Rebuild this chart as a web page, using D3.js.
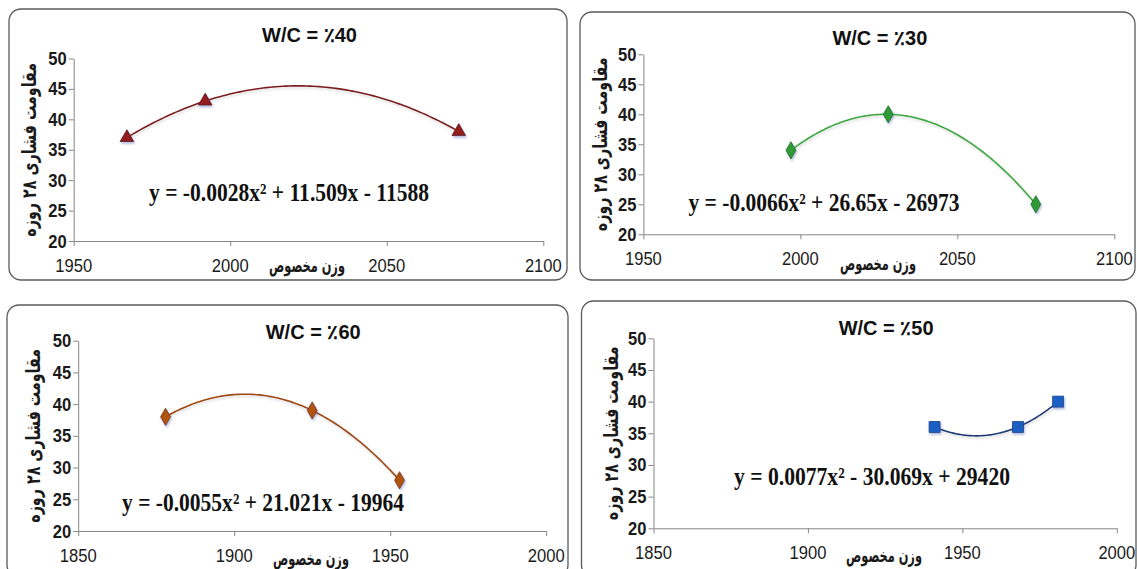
<!DOCTYPE html>
<html>
<head>
<meta charset="utf-8">
<script src="https://cdn.jsdelivr.net/npm/d3@7"></script>
<style>
  html, body { margin: 0; padding: 0; background: #fff; }
  svg { display: block; }
  .tick-x { font-family: "Liberation Sans", Arial, sans-serif; font-size: 18px; fill: #1a1a1a; }
  .tick-y { font-family: "Liberation Sans", Arial, sans-serif; font-size: 18px; font-weight: bold; fill: #1a1a1a; }
  .title { font-family: "Liberation Sans", Arial, sans-serif; font-size: 20px; font-weight: bold; fill: #111; }
  .axis-title { font-family: "DejaVu Sans", sans-serif; font-weight: bold; fill: #1a1a1a; }
  .equation { font-family: "Liberation Serif", "Times New Roman", serif; font-size: 25px; font-weight: bold; fill: #111; }
</style>
</head>
<body>
<script>
var width = 1137, height = 569;

// data
var wcLabels = ["W/C = ٪40", "W/C = ٪30", "W/C = ٪60", "W/C = ٪50"];

var density40 = [1967, 1992, 2073];
var strength40 = [37, 43, 38];
var density30 = [1997, 2028, 2075];
var strength30 = [34, 40, 25];
var density60 = [1878, 1925, 1953];
var strength60 = [38, 39, 28];
var density50 = [1941, 1968, 1981];
var strength50 = [36, 36, 40];

var equation40 = "y = -0.0028x² + 11.509x - 11588";
var equation30 = "y = -0.0066x² + 26.65x - 26973";
var equation60 = "y = -0.0055x² + 21.021x - 19964";
var equation50 = "y = 0.0077x² - 30.069x + 29420";

var xTicksUpper = [1950, 2000, 2050, 2100];
var xTicksLower = [1850, 1900, 1950, 2000];
var yTicks = [20, 25, 30, 35, 40, 45, 50];

var yTitle = "مقاومت فشاری ۲۸ روزه";
var xTitle = "وزن مخصوص";

// panel layout and styling
var panels = [
  {label: wcLabels[0], xs: density40, ys: strength40, eq: equation40, ticks: xTicksUpper,
   box: [9, 9, 558, 271], plot: [73.7, 543.3, 58.5, 241], titleY: 42,
   eqX: 289, eqY: 201, eqLen: 280, tickY: 272, xTitleX: 307, xTitleY: 272, yTitleX: 36,
   symbol: d3.symbolTriangle, size: 80, fill: "#921c1f", stroke: "#5e0f12", line: "#7b1a1c"},
  {label: wcLabels[1], xs: density30, ys: strength30, eq: equation30, ticks: xTicksUpper,
   box: [580, 12, 555, 268], plot: [643.4, 1114.3, 54.3, 234.3], titleY: 45,
   eqX: 824, eqY: 211, eqLen: 271, tickY: 265, xTitleX: 878, xTitleY: 270, yTitleX: 607,
   symbol: d3.symbolDiamond, size: 85, fill: "#2d9b34", stroke: "#1a6b20", line: "#3ca83f"},
  {label: wcLabels[2], xs: density60, ys: strength60, eq: equation60, ticks: xTicksLower,
   box: [7, 305, 561, 272], plot: [78.2, 546.2, 340.7, 531], titleY: 339,
   eqX: 263, eqY: 511, eqLen: 282, tickY: 562, xTitleX: 311, xTitleY: 565, yTitleX: 40,
   symbol: d3.symbolDiamond, size: 85, fill: "#b4520e", stroke: "#6e3208", line: "#a0460f"},
  {label: wcLabels[3], xs: density50, ys: strength50, eq: equation50, ticks: xTicksLower,
   box: [581.5, 301, 554.5, 276], plot: [653.5, 1116.8, 338.3, 528.3], titleY: 335,
   eqX: 872, eqY: 485, eqLen: 276, tickY: 559, xTitleX: 884, xTitleY: 562, yTitleX: 618,
   symbol: d3.symbolSquare, size: 120, fill: "#1f5fc2", stroke: "#153f8a", line: "#1b3b73"}
];

// least squares polynomial of order 2 (the chart's trendline)
function fitQuadratic(xs, ys) {
  var m = d3.mean(xs);
  var S = [0, 0, 0, 0, 0], T = [0, 0, 0];
  xs.forEach(function(x, i) {
    var u = x - m;
    for (var k = 0; k < 5; k++) S[k] += Math.pow(u, k);
    for (var k = 0; k < 3; k++) T[k] += ys[i] * Math.pow(u, k);
  });
  var A = [[S[0], S[1], S[2], T[0]], [S[1], S[2], S[3], T[1]], [S[2], S[3], S[4], T[2]]];
  for (var c = 0; c < 3; c++) {
    for (var r = c + 1; r < 3; r++) {
      var f = A[r][c] / A[c][c];
      for (var j = c; j < 4; j++) A[r][j] -= f * A[c][j];
    }
  }
  var coef = [0, 0, 0];
  for (var r = 2; r >= 0; r--) {
    var s = A[r][3];
    for (var j = r + 1; j < 3; j++) s -= A[r][j] * coef[j];
    coef[r] = s / A[r][r];
  }
  return function(x) { var u = x - m; return coef[0] + coef[1] * u + coef[2] * u * u; };
}

// squeeze a text sideways to a target width with a transform, so its box shrinks too
function fitWidth(sel, cx, cy, target, rotate) {
  var w = sel.node().getComputedTextLength();
  var k = target / w;
  sel.attr("transform", "translate(" + cx + "," + cy + ")" + (rotate ? " rotate(-90)" : "") + " scale(" + k + ",1)");
}

var svg = d3.select("body").append("svg")
  .attr("width", width)
  .attr("height", height);

var defs = svg.append("defs");
var shadow = defs.append("filter").attr("id", "shadow")
  .attr("x", "-50%").attr("y", "-50%").attr("width", "200%").attr("height", "200%");
shadow.append("feDropShadow")
  .attr("dx", 1).attr("dy", 2).attr("stdDeviation", 1.2)
  .attr("flood-color", "#5a6fb5").attr("flood-opacity", 0.45);
var lineShadow = defs.append("filter").attr("id", "lineShadow")
  .attr("x", "-10%").attr("y", "-50%").attr("width", "120%").attr("height", "200%");
lineShadow.append("feDropShadow")
  .attr("dx", 1).attr("dy", 2).attr("stdDeviation", 1)
  .attr("flood-color", "#999").attr("flood-opacity", 0.35);

panels.forEach(function(p) {
  var g = svg.append("g");

  g.append("rect")
    .attr("x", p.box[0]).attr("y", p.box[1])
    .attr("width", p.box[2]).attr("height", p.box[3])
    .attr("rx", 12).attr("ry", 12)
    .attr("fill", "#fff")
    .attr("stroke", "#5a5a5a")
    .attr("stroke-width", 1.3);

  var x = d3.scaleLinear().domain([p.ticks[0], p.ticks[p.ticks.length - 1]]).range([p.plot[0], p.plot[1]]);
  var y = d3.scaleLinear().domain([20, 50]).range([p.plot[3], p.plot[2]]);

  var xAxis = g.append("g")
    .attr("transform", "translate(0," + p.plot[3] + ")")
    .call(d3.axisBottom(x).tickValues(p.ticks).tickFormat(d3.format("d")).tickSize(5).tickSizeOuter(0));
  xAxis.select(".domain").attr("stroke", "#868686");
  xAxis.selectAll(".tick line").attr("stroke", "#868686");
  xAxis.selectAll(".tick text").remove();

  var yAxis = g.append("g")
    .attr("transform", "translate(" + p.plot[0] + ",0)")
    .call(d3.axisLeft(y).tickValues(yTicks).tickSize(5).tickSizeOuter(0));
  yAxis.select(".domain").attr("stroke", "#868686");
  yAxis.selectAll(".tick line").attr("stroke", "#868686");
  yAxis.selectAll(".tick text").remove();

  g.selectAll("text.tick-x")
    .data(p.ticks).enter()
    .append("text")
    .attr("class", "tick-x squish")
    .attr("x", function(d) { return x(d); })
    .attr("y", p.tickY)
    .attr("text-anchor", "middle")
    .text(function(d) { return d; });

  g.selectAll("text.tick-y")
    .data(yTicks).enter()
    .append("text")
    .attr("class", "tick-y squish")
    .attr("x", p.plot[0] - 7)
    .attr("y", function(d) { return y(d) + 6.5; })
    .attr("text-anchor", "end")
    .text(function(d) { return d; });

  g.append("text")
    .attr("class", "title")
    .attr("x", x((p.ticks[0] + p.ticks[3]) / 2) + 1)
    .attr("y", p.titleY)
    .attr("text-anchor", "middle")
    .text(p.label);

  var xt = g.append("text")
    .attr("class", "axis-title")
    .attr("font-size", "19px")
    .attr("text-anchor", "middle")
    .attr("direction", "rtl")
    .text(xTitle);
  fitWidth(xt, p.xTitleX, p.xTitleY, 76, false);

  var yMid = (p.plot[2] + p.plot[3]) / 2;
  var yt = g.append("text")
    .attr("class", "axis-title")
    .attr("font-size", "20px")
    .attr("text-anchor", "middle")
    .attr("direction", "rtl")
    .text(yTitle);
  fitWidth(yt, p.yTitleX, yMid, 174, true);

  // trendline
  var f = fitQuadratic(p.xs, p.ys);
  var x0 = d3.min(p.xs), x1 = d3.max(p.xs);
  var samples = d3.range(0, 101).map(function(i) { return x0 + (x1 - x0) * i / 100; });
  g.append("path")
    .datum(samples)
    .attr("fill", "none")
    .attr("stroke", p.line)
    .attr("stroke-width", 1.6)
    .attr("filter", "url(#lineShadow)")
    .attr("d", d3.line().x(function(d) { return x(d); }).y(function(d) { return y(f(d)); }));

  g.selectAll("path.marker")
    .data(p.xs).enter()
    .append("path")
    .attr("class", "marker")
    .attr("transform", function(d, i) { return "translate(" + x(d) + "," + y(p.ys[i]) + ")"; })
    .attr("d", d3.symbol().type(p.symbol).size(p.size))
    .attr("fill", p.fill)
    .attr("stroke", p.stroke)
    .attr("stroke-width", 0.8)
    .attr("filter", "url(#shadow)");

  g.append("text")
    .attr("class", "equation")
    .attr("x", p.eqX)
    .attr("y", p.eqY)
    .attr("text-anchor", "middle")
    .attr("textLength", p.eqLen)
    .attr("lengthAdjust", "spacingAndGlyphs")
    .text(p.eq);
});

// the source picture is slightly compressed sideways; narrow the tick labels to match
svg.selectAll("text.squish").each(function() {
  var w = this.getComputedTextLength();
  d3.select(this).attr("textLength", w * 0.92).attr("lengthAdjust", "spacingAndGlyphs");
});
</script>
</body>
</html>
